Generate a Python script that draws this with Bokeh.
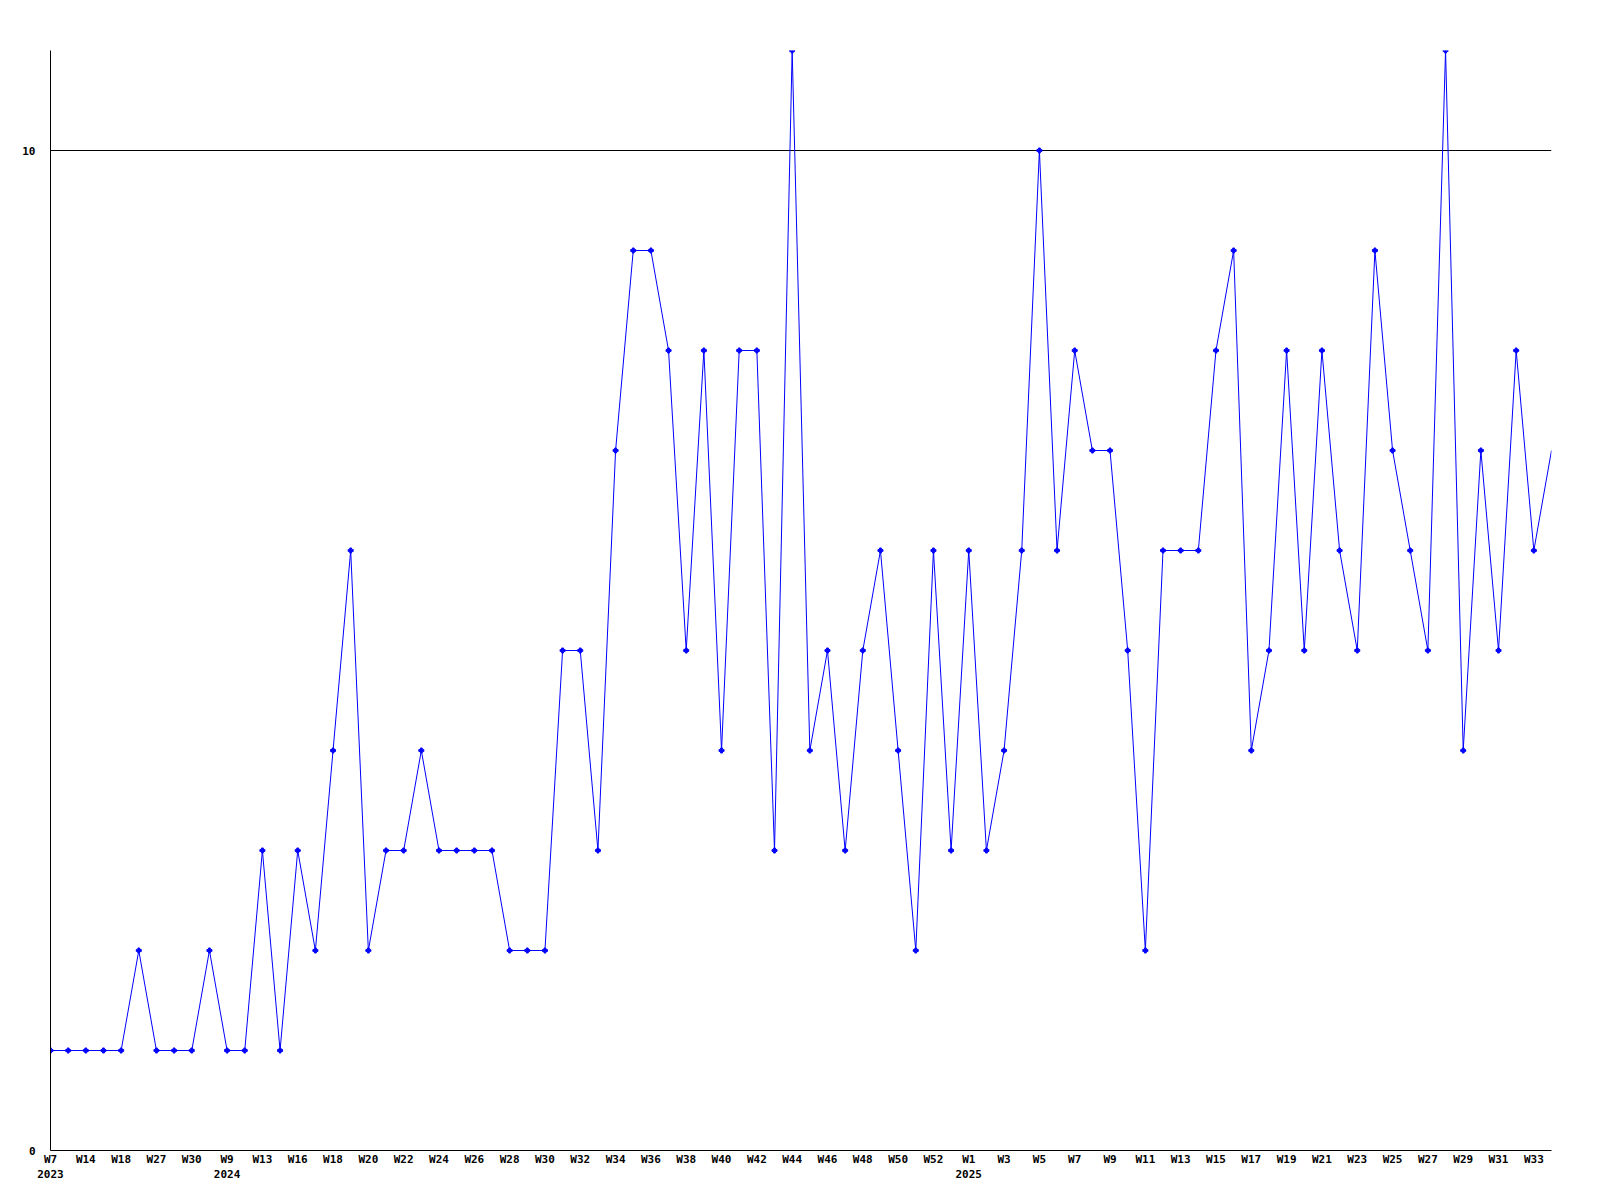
from bokeh.plotting import figure
from bokeh.models import FixedTicker, Range1d
from bokeh.embed import file_html
from bokeh.resources import INLINE

values = [1, 1, 1, 1, 1, 2, 1, 1, 1, 2,
          1, 1, 3, 1, 3, 2, 4, 6, 2, 3,
          3, 4, 3, 3, 3, 3, 2, 2, 2, 5,
          5, 3, 7, 9, 9, 8, 5, 8, 4, 8,
          8, 3, 11, 4, 5, 3, 5, 6, 4, 2,
          6, 3, 6, 3, 4, 6, 10, 6, 8, 7,
          7, 5, 2, 6, 6, 6, 8, 9, 4, 5,
          8, 5, 8, 6, 5, 9, 7, 6, 5, 11,
          4, 7, 5, 8, 6, 7]

tick_labels = ["W7\n2023", "W14", "W18", "W27", "W30", "W9\n2024", "W13", "W16", "W18", "W20",
               "W22", "W24", "W26", "W28", "W30", "W32", "W34", "W36", "W38", "W40",
               "W42", "W44", "W46", "W48", "W50", "W52", "W1\n2025", "W3", "W5", "W7",
               "W9", "W11", "W13", "W15", "W17", "W19", "W21", "W23", "W25", "W27",
               "W29", "W31", "W33"]

x = list(range(len(values)))
tick_pos = list(range(0, 2 * len(tick_labels), 2))

W, H = 1590, 1190
p = figure(width=W, height=H, output_backend="svg", toolbar_location=None,
           x_range=Range1d(0, len(values) - 1), y_range=Range1d(0, 11),
           min_border_left=50, min_border_right=W - 1551,
           min_border_top=50, min_border_bottom=H - 1150)
p.outline_line_color = None
p.background_fill_color = "white"
p.border_fill_color = "white"

p.line(x, values, line_color="#0000ff", line_width=1)
# the last point sits on the right edge and carries no marker in the original
p.scatter(x[:-1], values[:-1], marker="plus", size=5, fill_color="#0000ff", line_color="#0000ff")

font = "DejaVu Sans Mono"
p.xaxis.ticker = FixedTicker(ticks=tick_pos)
p.xaxis.major_label_overrides = {t: l for t, l in zip(tick_pos, tick_labels)}
p.yaxis.ticker = FixedTicker(ticks=[0, 10])
for ax in (p.xaxis[0], p.yaxis[0]):
    ax.major_tick_line_color = None
    ax.minor_tick_line_color = None
    ax.major_tick_out = 0
    ax.major_tick_in = 0
    ax.minor_tick_out = 0
    ax.axis_line_color = "black"
    ax.axis_line_width = 1
    ax.major_label_text_font = font
    ax.major_label_text_font_style = "bold"
    ax.major_label_text_font_size = "11px"
    ax.major_label_text_color = "black"
p.xaxis.major_label_standoff = 2
p.yaxis.major_label_standoff = 15

p.xgrid.visible = False
p.ygrid.ticker = FixedTicker(ticks=[10])
p.ygrid.grid_line_color = "black"
p.ygrid.grid_line_alpha = 1
p.ygrid.grid_line_width = 1

open("out.html", "w").write(file_html(p, INLINE))
